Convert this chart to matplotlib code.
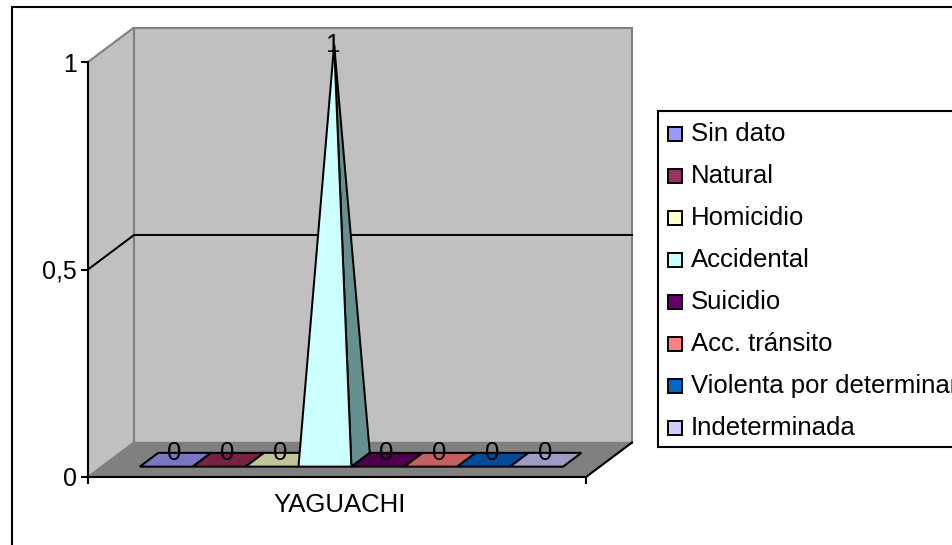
import matplotlib
matplotlib.use('Agg')
import matplotlib.pyplot as plt
from matplotlib.patches import Polygon, Rectangle

plt.rcParams['font.family'] = ['Liberation Sans', 'DejaVu Sans']

category = 'YAGUACHI'
series = ['Sin dato', 'Natural', 'Homicidio', 'Accidental', 'Suicidio',
          'Acc. tránsito', 'Violenta por determinar', 'Indeterminada']
values = [0, 0, 0, 1, 0, 0, 0, 0]
colors = ['#9999FF', '#993366', '#FFFFCC', '#CCFFFF', '#660066', '#FF8080', '#0066CC', '#CCCCFF']
shades = ['#7777C4', '#772244', '#C4C499', '#CCFFFF', '#4D004D', '#C46060', '#004C99', '#9C9CC4']
yticks = [0, 0.5, 1]
ytick_labels = ['0', '0,5', '1']

W, H = 953, 545
fig = plt.figure(figsize=(W / 100, H / 100), dpi=100)


def px_box(x0, y0, x1, y1):
    return [x0 / W, 1 - y1 / H, (x1 - x0) / W, (y1 - y0) / H]


# the front plane of the 3d box is the real axes, depth is an oblique offset
ax = fig.add_axes(px_box(88, 62, 586, 477))
ax.set_xlim(0, 1)
ax.set_ylim(0, 1)
ax.patch.set_visible(False)
DX = 46 / 498
DY = 34.5 / 415


def pt(x, y, z):
    return (x + DX * z, y + DY * z)


def face(pts, fc, ec='none', lw=0, zorder=1):
    ax.add_patch(Polygon(pts, closed=True, facecolor=fc, edgecolor=ec, linewidth=lw,
                         zorder=zorder, clip_on=False, joinstyle='miter'))


wall = '#C0C0C0'
edge = '#808080'
face([pt(0, 0, 1), pt(1, 0, 1), pt(1, 1, 1), pt(0, 1, 1)], wall, edge, 1.5)
face([pt(0, 0, 0), pt(0, 0, 1), pt(0, 1, 1), pt(0, 1, 0)], wall, edge, 1.5)
face([pt(0, 0, 0), pt(1, 0, 0), pt(1, 0, 1), pt(0, 0, 1)], edge, edge, 1)
ax.plot(*zip(pt(1, 0, 0), pt(1, 0, 1)), color='black', lw=1.5, clip_on=False, zorder=2)

for v in yticks[1:-1]:
    ax.plot(*zip(pt(0, v, 0), pt(0, v, 1), pt(1, v, 1)), color='black', lw=1.45, clip_on=False, zorder=2)

# pyramids
start = 38 / 498
bar_w = 52.9 / 498
z0, z1 = 0.3, 0.7
for i, (v, c, s) in enumerate(zip(values, colors, shades)):
    x0 = start + i * bar_w
    x1 = x0 + bar_w
    apex = pt((x0 + x1) / 2, v, 0.5)
    base = [pt(x0, 0, z0), pt(x1, 0, z0), pt(x1, 0, z1), pt(x0, 0, z1)]
    if v > 0:
        face([pt(x1, 0, z0), pt(x1, 0, z1), apex], '#669090', 'black', 1.45, 3)
        face([pt(x0, 0, z0), pt(x1, 0, z0), apex], c, 'black', 1.45, 4)
    else:
        face(base, s, 'black', 1.45, 3)
    # zero labels sit a little above the flat base
    ax.annotate(str(v), apex, xytext=(-0.7, 0 if v > 0 else 4.5), textcoords='offset points',
                ha='center', va='center', fontsize=18.5, color='black', zorder=5,
                annotation_clip=False)

for side in ['top', 'right']:
    ax.spines[side].set_visible(False)
for side in ['left', 'bottom']:
    ax.spines[side].set_linewidth(1.5)
    ax.spines[side].set_zorder(6)
ax.set_yticks(yticks)
ax.set_yticklabels(ytick_labels, fontsize=18)
ax.set_xticks([0, 1])
ax.set_xticklabels(['', ''])
ax.tick_params(axis='both', width=1.5, length=5, color='black', pad=3)
ax.text(0.506, -0.0675, category, transform=ax.transAxes, ha='center', va='center', fontsize=18.5)

# outer frame and legend are drawn on a full figure overlay in pixel units
ov = fig.add_axes([0, 0, 1, 1], zorder=-1)
ov.set_xlim(0, W)
ov.set_ylim(H, 0)
ov.axis('off')
ov.add_patch(Rectangle((12, 6.5), W, H, facecolor='white', edgecolor='black', lw=1.5))

lg = fig.add_axes([0, 0, 1, 1], zorder=5)
lg.set_xlim(0, W)
lg.set_ylim(H, 0)
lg.axis('off')
lg.add_patch(Rectangle((658, 111), W, 335.5, facecolor='white', edgecolor='black', lw=1.5))
for i, (name, c) in enumerate(zip(series, colors)):
    y = 134 + i * 42
    lg.add_patch(Rectangle((668, y - 7), 14, 14, facecolor=c, edgecolor='black', lw=1.4))
    lg.text(691, y, name, ha='left', va='center', fontsize=18.5, clip_on=True)

fig.savefig('out.png', dpi=100)
